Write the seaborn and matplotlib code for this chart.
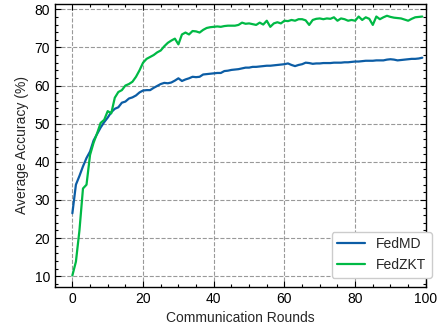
import matplotlib
matplotlib.use("Agg")
import matplotlib.pyplot as plt
import numpy as np
import pandas as pd
import seaborn as sns
from matplotlib.ticker import MultipleLocator

rounds = list(range(100))

fedmd = [
    26.5, 34.0, 36.3, 38.8, 41.0, 42.7, 45.6, 47.3, 49.0, 50.4,
    51.6, 53.0, 53.9, 54.3, 55.5, 55.8, 56.6, 56.9, 57.4, 58.2,
    58.7, 58.8, 58.8, 59.4, 59.9, 60.4, 60.7, 60.6, 60.8, 61.3,
    61.9, 61.2, 61.6, 61.9, 62.3, 62.2, 62.3, 62.9, 63.0, 63.1,
    63.2, 63.3, 63.3, 63.8, 63.9, 64.1, 64.2, 64.3, 64.5, 64.7,
    64.7, 64.9, 64.9, 65.0, 65.1, 65.2, 65.2, 65.3, 65.4, 65.5,
    65.6, 65.8, 65.4, 65.1, 65.4, 65.6, 66.0, 65.9, 65.7, 65.8,
    65.8, 65.9, 65.9, 65.9, 66.0, 66.0, 66.0, 66.1, 66.1, 66.2,
    66.3, 66.3, 66.4, 66.5, 66.5, 66.5, 66.6, 66.6, 66.6, 66.8,
    66.9, 66.8, 66.6, 66.7, 66.8, 66.9, 67.0, 67.0, 67.1, 67.3,
]

fedzkt = [
    10.2, 13.8, 22.0, 33.0, 34.0, 41.8, 45.0, 47.5, 50.2, 51.0,
    53.3, 52.7, 56.8, 58.3, 58.8, 60.0, 60.4, 61.0, 62.3, 64.0,
    66.0, 67.0, 67.5, 68.0, 68.7, 69.2, 70.3, 71.2, 71.8, 72.3,
    70.8, 73.4, 73.9, 73.4, 74.3, 74.2, 73.9, 74.6, 75.1, 75.3,
    75.4, 75.5, 75.4, 75.6, 75.7, 75.7, 75.7, 75.9, 76.5, 76.2,
    76.3, 76.1, 75.9, 76.5, 76.0, 77.0, 75.4, 76.3, 76.6, 76.3,
    77.0, 76.9, 77.2, 77.0, 77.4, 77.4, 77.1, 75.9, 77.2, 77.5,
    77.6, 77.4, 77.6, 77.5, 77.9, 77.0, 77.6, 77.4, 77.0, 77.2,
    77.0, 78.1, 77.2, 77.9, 77.5, 75.9, 78.1, 77.4, 77.9, 78.3,
    78.0, 77.8, 77.7, 77.6, 77.3, 77.0, 77.5, 77.9, 78.0, 78.1,
]

methods = ["FedMD", "FedZKT"]
colors = ["#0C5DA5", "#00B945"]

df = pd.DataFrame({
    "round": rounds * 2,
    "acc": fedmd + fedzkt,
    "method": [methods[0]] * len(rounds) + [methods[1]] * len(rounds),
})

sns.set_style("ticks")
plt.rcParams["font.family"] = ["Liberation Sans", "DejaVu Sans"]
plt.rcParams["font.size"] = 10

fig = plt.figure(figsize=(4.39, 3.29), dpi=100)
ax = fig.add_axes([0.125, 0.128, 0.845, 0.86])
sns.lineplot(data=df, x="round", y="acc", hue="method", palette=colors,
             linewidth=1.6, ax=ax)

ax.set_xlim(-4.95, 100)
ax.set_ylim(7.2, 81.4)
ax.xaxis.set_major_locator(MultipleLocator(20))
ax.xaxis.set_minor_locator(MultipleLocator(5))
ax.yaxis.set_major_locator(MultipleLocator(10))
ax.yaxis.set_minor_locator(MultipleLocator(2))
ax.tick_params(which="both", direction="in", top=True, right=True, colors="black")
ax.tick_params(which="major", length=4, width=0.8)
ax.tick_params(which="minor", length=2, width=0.8)
for s in ax.spines.values():
    s.set_color("black")
    s.set_linewidth(1.0)
ax.grid(True, which="major", linestyle="--", color="#999999", linewidth=0.8)
ax.set_axisbelow(True)

ax.set_xlabel("Communication Rounds", fontsize=10)
ax.set_ylabel("Average Accuracy (%)", fontsize=10)
leg = ax.legend(title=None, loc="lower right", bbox_to_anchor=(1.016, 0.032),
                borderaxespad=0, frameon=True, fancybox=True,
                edgecolor="#cccccc", framealpha=1.0, fontsize=10)
leg.get_frame().set_linewidth(1.0)

fig.savefig("out.png", dpi=100)
